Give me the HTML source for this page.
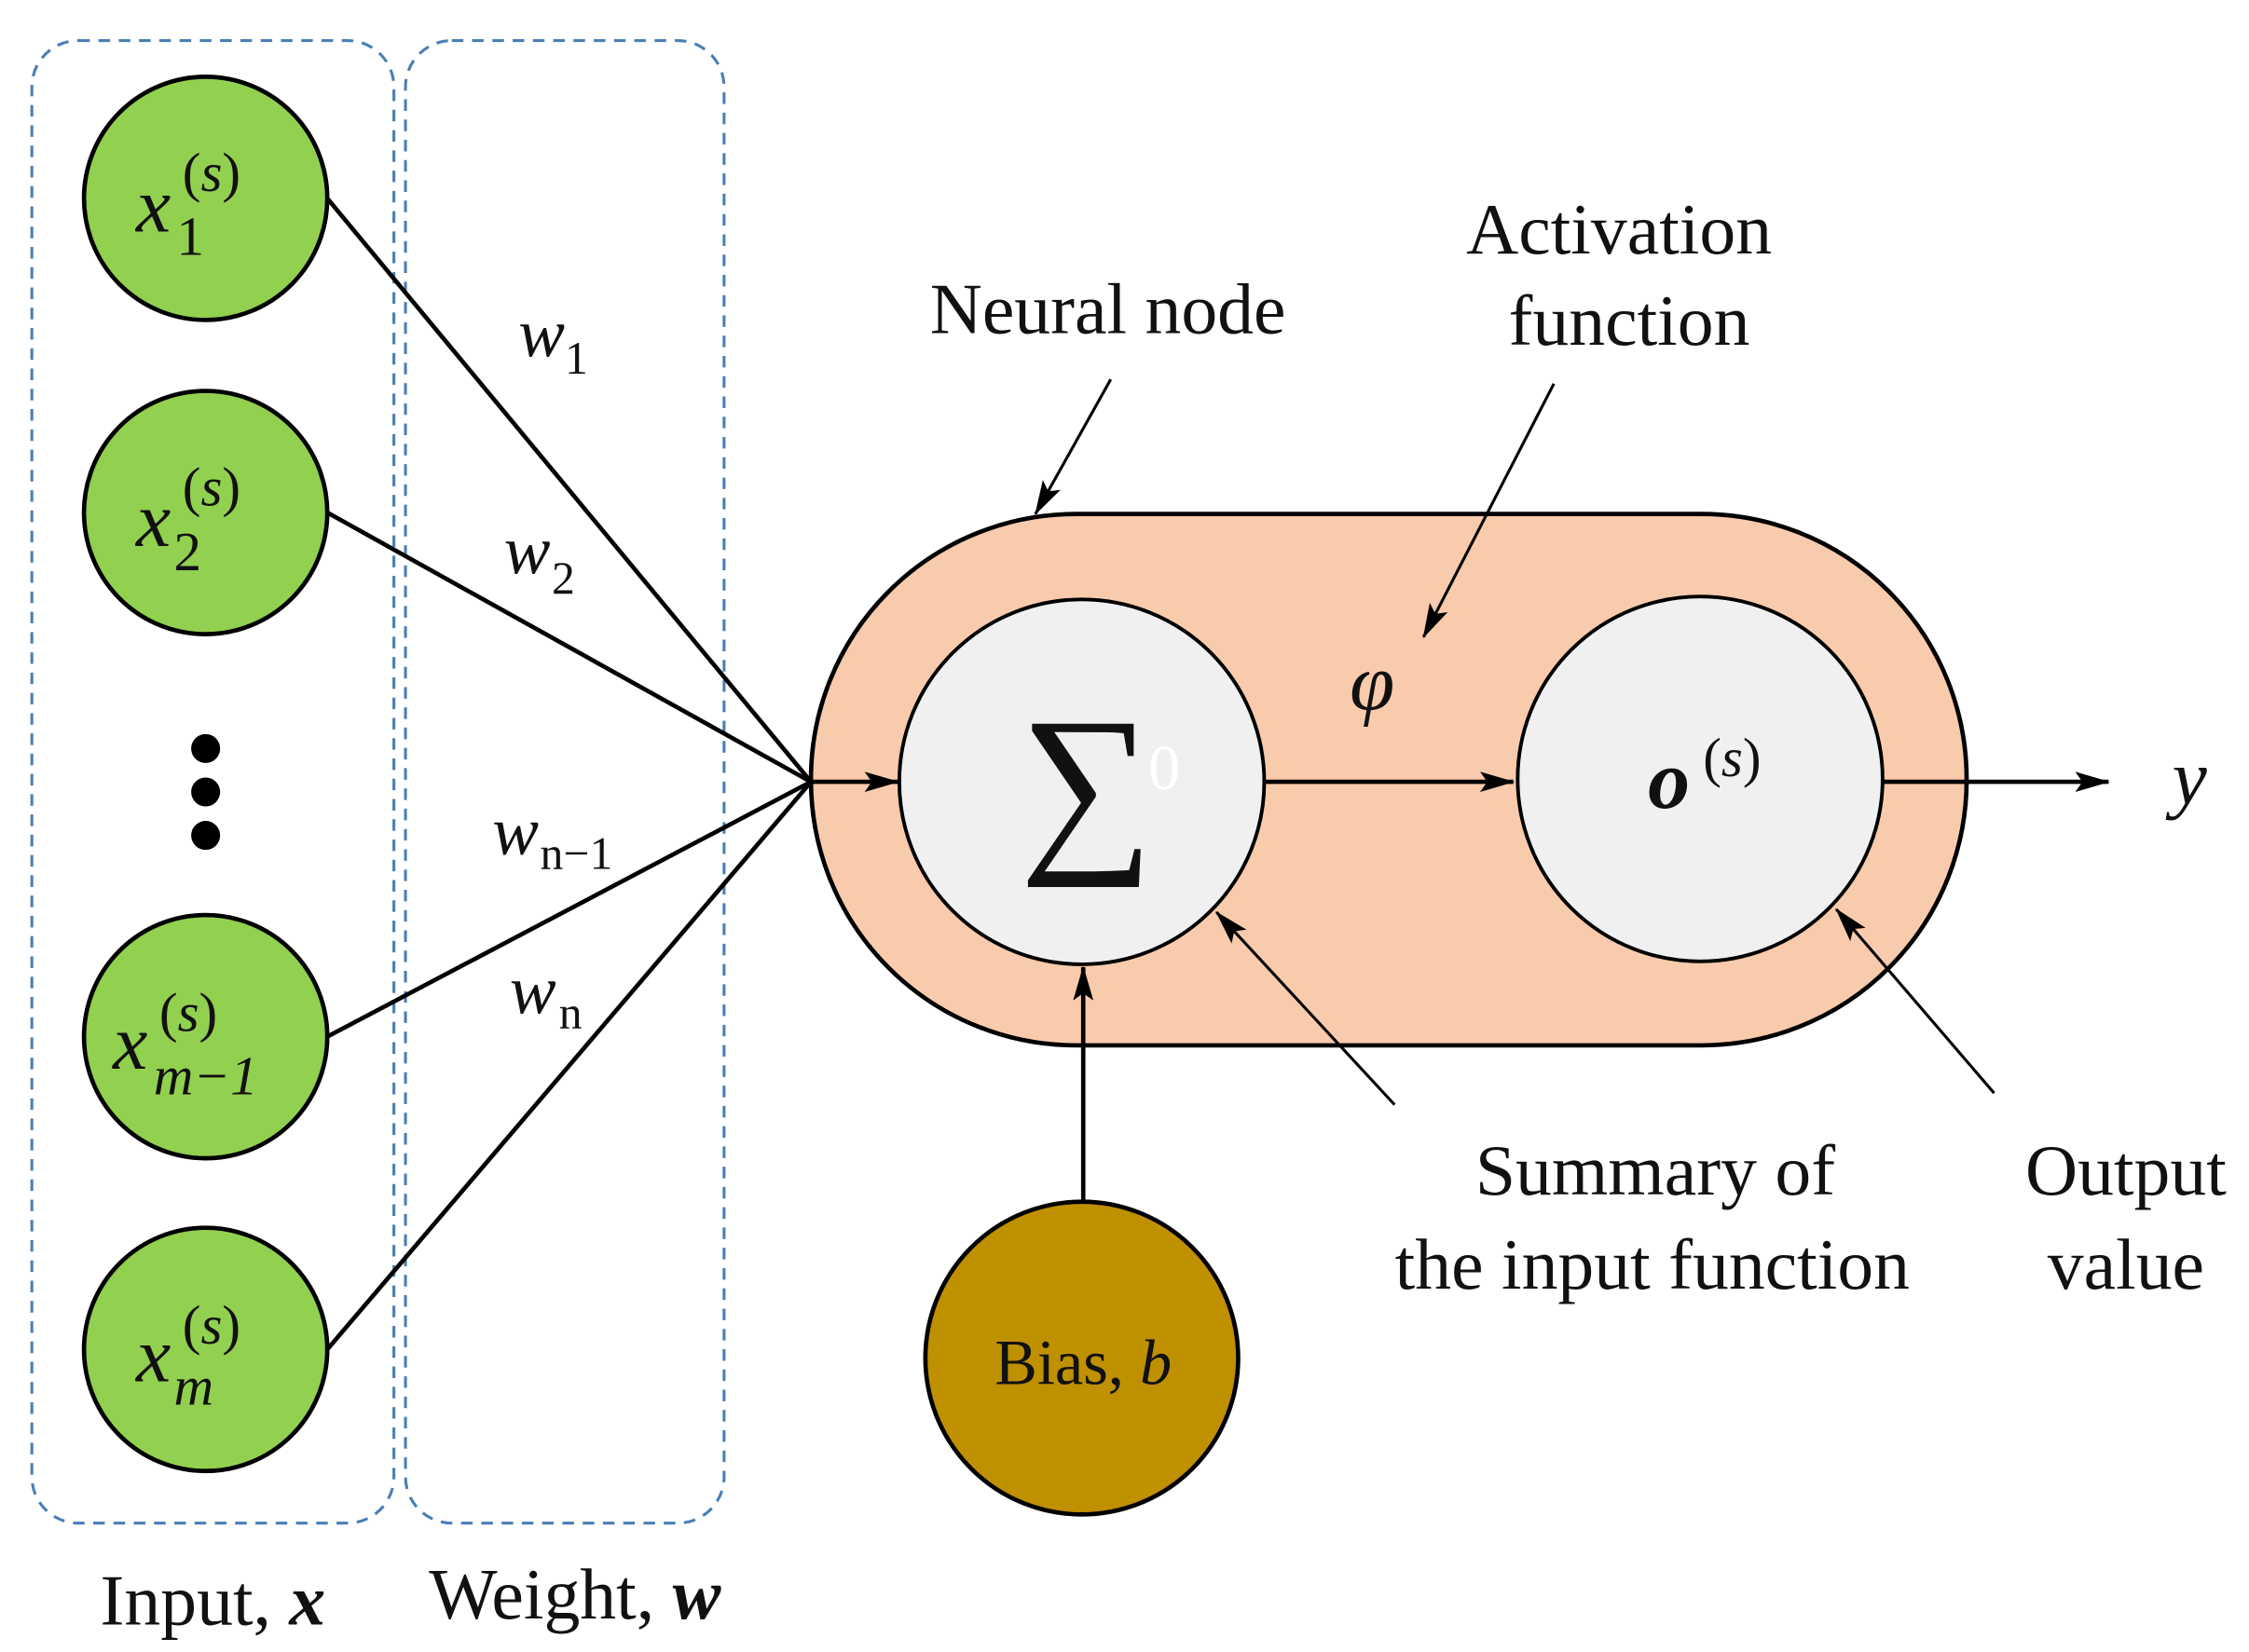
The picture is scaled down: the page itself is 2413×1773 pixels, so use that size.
<!DOCTYPE html>
<html><head><meta charset="utf-8"><style>
html,body{margin:0;padding:0;background:#fff;}
svg{display:block;}
text{font-family:"Liberation Serif",serif;fill:#111;}
</style></head><body>
<svg width="2413" height="1773" viewBox="0 0 1553 1141" preserveAspectRatio="none" xmlns="http://www.w3.org/2000/svg">
<defs>
<marker id="ab" markerWidth="24" markerHeight="14" refX="23" refY="7" orient="auto" markerUnits="userSpaceOnUse">
<path d="M0,0 L24,7 L0,14 L5,7 Z" fill="#000"/>
</marker>
</defs>
<rect x="22" y="28" width="250" height="1024" rx="32" fill="none" stroke="#4a7fb5" stroke-width="2" stroke-dasharray="8,6"/>
<rect x="280" y="28" width="220" height="1024" rx="32" fill="none" stroke="#4a7fb5" stroke-width="2" stroke-dasharray="8,6"/>
<rect x="560" y="355" width="798" height="367" rx="183" fill="#f8cbad" stroke="#000" stroke-width="3"/>
<g stroke="#000" stroke-width="3">
<line x1="226" y1="137" x2="560" y2="540"/>
<line x1="226" y1="354" x2="560" y2="540"/>
<line x1="226" y1="716" x2="560" y2="540"/>
<line x1="226" y1="932" x2="560" y2="540"/>
<line x1="560" y1="540" x2="620" y2="540" marker-end="url(#ab)"/>
<line x1="873" y1="540" x2="1045" y2="540" marker-end="url(#ab)"/>
<line x1="1300" y1="540" x2="1456" y2="540" marker-end="url(#ab)"/>
<line x1="748" y1="830" x2="748" y2="668" marker-end="url(#ab)"/>
</g>
<g stroke="#000" stroke-width="2">
<line x1="767" y1="262" x2="715" y2="355" marker-end="url(#ab)"/>
<line x1="1073" y1="265" x2="983" y2="440" marker-end="url(#ab)"/>
<line x1="963" y1="763" x2="840" y2="630" marker-end="url(#ab)"/>
<line x1="1377" y1="755" x2="1268" y2="628" marker-end="url(#ab)"/>
</g>
<g fill="#92d050" stroke="#000" stroke-width="3">
<circle cx="142" cy="137" r="84"/>
<circle cx="142" cy="354" r="84"/>
<circle cx="142" cy="716" r="84"/>
<circle cx="142" cy="932" r="84"/>
</g>
<circle cx="142" cy="517" r="10" fill="#000"/>
<circle cx="142" cy="547" r="10" fill="#000"/>
<circle cx="142" cy="577" r="10" fill="#000"/>
<circle cx="747" cy="540" r="126" fill="#f0f0f0" stroke="#000" stroke-width="2.5"/>
<circle cx="1174" cy="538" r="126" fill="#f0f0f0" stroke="#000" stroke-width="2.5"/>
<circle cx="747" cy="938" r="108" fill="#bf9000" stroke="#000" stroke-width="3"/>
<g font-style="italic" font-size="54">
<text x="94" y="160">x</text><text x="94" y="377">x</text><text x="78" y="738">x</text><text x="94" y="954">x</text>
</g>
<g font-size="38">
<text x="126" y="132">(<tspan font-style="italic">s</tspan>)</text>
<text x="122" y="176">1</text>
<text x="126" y="349">(<tspan font-style="italic">s</tspan>)</text>
<text x="120" y="394">2</text>
<text x="110" y="712">(<tspan font-style="italic">s</tspan>)</text>
<text x="106" y="756" font-style="italic">m−1</text>
<text x="126" y="928">(<tspan font-style="italic">s</tspan>)</text>
<text x="120" y="970" font-style="italic">m</text>
</g>
<g font-size="48" font-style="italic">
<text x="358" y="246">w</text><text x="348" y="396">w</text><text x="340" y="590">w</text><text x="352" y="700">w</text>
</g>
<g font-size="32">
<text x="390" y="258">1</text><text x="381" y="410">2</text><text x="373" y="600">n−1</text><text x="386" y="710">n</text>
</g>
<text x="704" y="585" font-size="130" font-family="DejaVu Serif,serif">∑</text>
<text x="793" y="545" font-size="44" style="fill:#fff">0</text>
<text x="932" y="490" font-size="56" font-style="italic">φ</text>
<text x="1138" y="558" font-size="58" font-weight="bold" font-style="italic">o</text>
<text x="1176" y="536" font-size="38">(<tspan font-style="italic">s</tspan>)</text>
<text x="1500" y="555" font-size="54" font-style="italic">y</text>
<g font-size="50" text-anchor="middle">
<text x="765" y="230">Neural node</text>
<text x="1118" y="175">Activation</text>
<text x="1125" y="238">function</text>
<text x="1143" y="825">Summary of</text>
<text x="1141" y="890">the input function</text>
<text x="1468" y="825">Output</text>
<text x="1468" y="890">value</text>
</g>
<text x="748" y="956" font-size="44" text-anchor="middle">Bias, <tspan font-style="italic">b</tspan></text>
<text x="147" y="1122" font-size="50" text-anchor="middle">Input, <tspan font-weight="bold" font-style="italic">x</tspan></text>
<text x="397" y="1118" font-size="50" text-anchor="middle">Weight, <tspan font-weight="bold" font-style="italic">w</tspan></text>
</svg>
</body></html>
